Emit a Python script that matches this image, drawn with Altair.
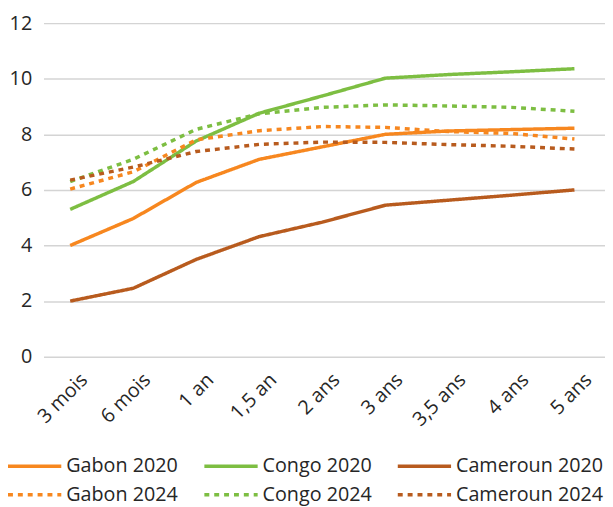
import altair as alt
import pandas as pd

periods = ["3 mois", "6 mois", "1 an", "1,5 an", "2 ans", "3 ans", "3,5 ans", "4 ans", "5 ans"]
series_names = ["Gabon 2020", "Congo 2020", "Cameroun 2020", "Gabon 2024", "Congo 2024", "Cameroun 2024"]

gabon_2020 = [4.00, 4.97, 6.27, 7.10, 7.55, 8.00, 8.12, 8.17, 8.22]
congo_2020 = [5.30, 6.30, 7.76, 8.76, 9.38, 10.02, 10.15, 10.25, 10.36]
cameroun_2020 = [2.00, 2.46, 3.50, 4.32, 4.84, 5.45, 5.63, 5.81, 6.00]
gabon_2024 = [6.03, 6.65, 7.80, 8.13, 8.28, 8.25, 8.10, 8.03, 7.83]
congo_2024 = [6.30, 7.10, 8.18, 8.74, 8.97, 9.06, 9.02, 8.97, 8.83]
cameroun_2024 = [6.35, 6.82, 7.38, 7.64, 7.72, 7.71, 7.63, 7.57, 7.47]

colors = ["#F7871F", "#7DBE42", "#B85B1E", "#F7871F", "#7DBE42", "#B85B1E"]
dashes = [[1, 0], [1, 0], [1, 0], [5, 5], [5, 5], [5, 5]]

all_values = [gabon_2020, congo_2020, cameroun_2020, gabon_2024, congo_2024, cameroun_2024]
rows = []
for name, vals in zip(series_names, all_values):
    for p, v in zip(periods, vals):
        rows.append({"periode": p, "valeur": v, "serie": name})
df = pd.DataFrame(rows)

FONT = "Open Sans"
TXT = "#262626"

legend = alt.Legend(
    title=None,
    orient="none",
    legendX=-38,
    legendY=439,
    columns=3,
    direction="horizontal",
    symbolType="stroke",
    symbolSize=2916,
    symbolStrokeWidth=3.5,
    clipHeight=20,
    labelOffset=3,
    columnPadding=24,
    rowPadding=9,
    labelFont=FONT,
    labelFontSize=20,
    labelColor=TXT,
    labelLimit=300,
    padding=0,
)

chart = (
    alt.Chart(df)
    .mark_line(strokeWidth=3.5, strokeCap="butt", strokeJoin="round")
    .encode(
        x=alt.X(
            "periode:N",
            sort=periods,
            scale=alt.Scale(type="point", padding=0.454, align=0.466),
            axis=alt.Axis(
                title=None,
                labelAngle=-45,
                labelAlign="right",
                labelBaseline="middle",
                labelFont=FONT,
                labelFontSize=20,
                labelColor=TXT,
                labelPadding=20,
                labelOffset=14,
                domain=False,
                ticks=False,
                grid=False,
            ),
        ),
        y=alt.Y(
            "valeur:Q",
            scale=alt.Scale(domain=[0, 12], nice=False),
            axis=alt.Axis(
                title=None,
                values=[0, 2, 4, 6, 8, 10, 12],
                labelFont=FONT,
                labelFontSize=20,
                labelColor=TXT,
                labelPadding=12,
                domain=False,
                ticks=False,
                grid=True,
                gridColor="#D4D4D4",
                gridWidth=1.5,
            ),
        ),
        color=alt.Color("serie:N", scale=alt.Scale(domain=series_names, range=colors), legend=legend),
        strokeDash=alt.StrokeDash("serie:N", scale=alt.Scale(domain=series_names, range=dashes), legend=legend),
    )
    .properties(
        width=569,
        height=338,
        padding={"left": 36, "top": 12, "right": 0, "bottom": 149},
        autosize=alt.AutoSizeParams(type="none"),
    )
    .configure_view(stroke=None)
)

chart.save("out.html", embed_options={"renderer": "svg", "actions": False})
